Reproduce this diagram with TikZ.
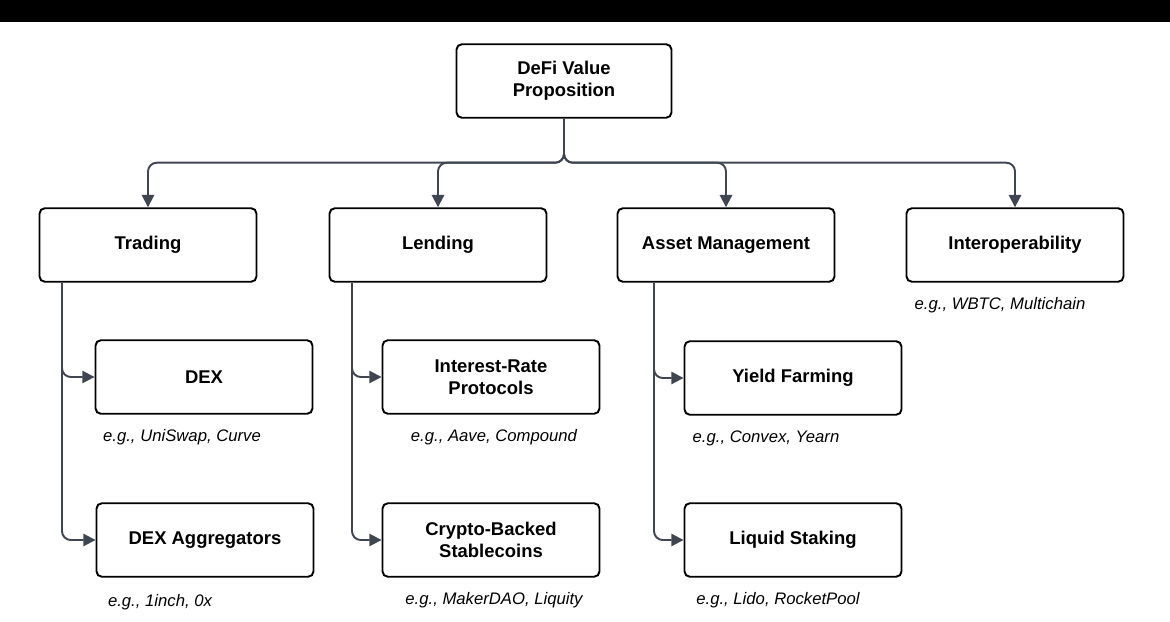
\documentclass[tikz,border=0pt]{standalone}
\usepackage{fontspec}
\setmainfont{Liberation Sans}
\usetikzlibrary{arrows.meta}
\definecolor{line}{HTML}{3F4652}
\begin{document}
\begin{tikzpicture}
   [x=0.02cm,y=-0.02cm,
      box/.style={draw=black,line width=1.1pt,rounded corners=3pt,minimum
      width=4.34cm,minimum height=1.47cm,align=center,
      font=\fontsize{10.5}{12.5}\selectfont\bfseries},
ex/.style={font=\fontsize{9.5}{11}\selectfont\itshape,inner sep=1pt},
conn/.style={line width=1.1pt,line,rounded corners=5pt,
-{Triangle[length=7pt,width=7pt]}}]
%%
\useasboundingbox (0,0) rectangle (1170,622);
\fill[black] (0,0) rectangle (1170,22);
%%
\node (root) [box,minimum width=4.3cm] at (564,81) {DeFi Value\\Proposition};
\node (trade) [box] at (148,245) {Trading};
\node (lend) [box] at (438,245) {Lending};
\node (asset) [box] at (726,245) {Asset Management};
\node (inter) [box] at (1015,245) {Interoperability};
%%
\node (dex) [box] at (204,377) {DEX};
\node (agg) [box] at (205,540) {DEX Aggregators};
\node (rate) [box] at (491,377) {Interest-Rate\\Protocols};
\node (stable) [box] at (491,540) {Crypto-Backed\\Stablecoins};
\node (yield) [box] at (793,378) {Yield Farming};
\node (stake) [box] at (793,540) {Liquid Staking};
%%
\node (exdex) [ex] at (182,437) {e.g., UniSwap, Curve};
\node (exagg) [ex] at (160,602) {e.g., 1inch, 0x};
\node (exrate) [ex] at (494,437) {e.g., Aave, Compound};
\node (exstable) [ex] at (494,600) {e.g., MakerDAO, Liquity};
\node (exyield) [ex] at (766,438) {e.g., Convex, Yearn};
\node (exstake) [ex] at (778,600) {e.g., Lido, RocketPool};
\node (exinter) [ex] at (1000,305) {e.g., WBTC, Multichain};
%%
%% top level
\foreach \n in {trade,lend,asset,inter}
   \draw[conn] (root.south) -- ++(0,44) -| (\n.north);
%%
%% second level
\coordinate (tb) at (62,283);
\coordinate (lb) at (352,283);
\coordinate (ab) at (654,283);
\draw[conn] (tb) |- (dex.west);
\draw[conn] (tb) |- (agg.west);
\draw[conn] (lb) |- (rate.west);
\draw[conn] (lb) |- (stable.west);
\draw[conn] (ab) |- (yield.west);
\draw[conn] (ab) |- (stake.west);
\end{tikzpicture}
\end{document}
